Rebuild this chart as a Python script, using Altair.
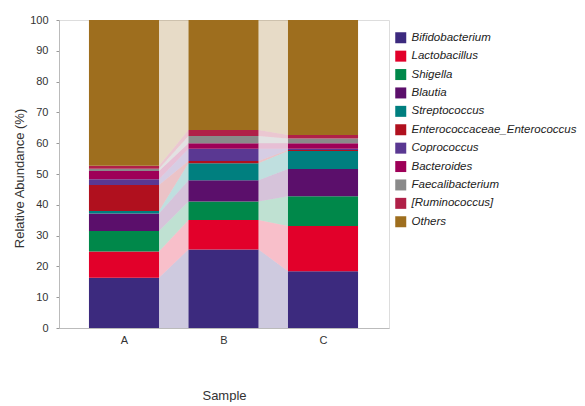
import altair as alt
import pandas as pd

samples = ["A", "B", "C"]
genera = [
    "Bifidobacterium", "Lactobacillus", "Shigella", "Blautia", "Streptococcus",
    "Enterococcaceae_Enterococcus", "Coprococcus", "Bacteroides",
    "Faecalibacterium", "[Ruminococcus]", "Others",
]
bifidobacterium = [16.3, 25.5, 18.4]
lactobacillus = [8.5, 9.6, 14.7]
shigella = [6.7, 6.0, 9.7]
blautia = [5.7, 6.9, 8.8]
streptococcus = [0.8, 5.5, 5.9]
enterococcus = [8.4, 0.7, 0.3]
coprococcus = [1.9, 4.0, 0.4]
bacteroides = [2.7, 1.8, 1.8]
faecalibacterium = [0.7, 2.3, 1.5]
ruminococcus = [1.0, 2.0, 1.2]
others = [47.3, 35.7, 37.3]

colors = ["#3c2a7e", "#e2002a", "#00884a", "#5b0f6b", "#007f7f", "#b0101e",
          "#5a3892", "#9e0058", "#8a8a8a", "#b02048", "#9e6e1e"]

series = [bifidobacterium, lactobacillus, shigella, blautia, streptococcus,
          enterococcus, coprococcus, bacteroides, faecalibacterium,
          ruminococcus, others]

# stacked segments
rows = []
lo_hi = {}
for si, s in enumerate(samples):
    cum = 0.0
    for g, vals in zip(genera, series):
        v = vals[si]
        rows.append({"Sample": s, "idx": si, "Genus": g, "lo": cum, "hi": cum + v})
        lo_hi[(g, si)] = (cum, cum + v)
        cum += v
bars_df = pd.DataFrame(rows)

# connecting bands between consecutive samples
band_rows = []
for i in range(len(samples) - 1):
    for g in genera:
        for side, j in (("right", i), ("left", i + 1)):
            lo, hi = lo_hi[(g, j)]
            band_rows.append({"Genus": g, "key": f"{g}-{i}", "idx": j,
                              "side": side, "lo": lo, "hi": hi})
bands_df = pd.DataFrame(band_rows)

HALF = 0.352
xscale = alt.Scale(domain=[-0.653, 2.663], nice=False, zero=False)
yscale = alt.Scale(domain=[0, 100], nice=False)
cscale = alt.Scale(domain=genera, range=colors)

xaxis = alt.Axis(values=[0, 1, 2],
                 labelExpr="['A','B','C'][datum.value]",
                 ticks=False, grid=False, labelPadding=6, labelFontSize=11,
                 labelColor="#333", domainColor="#bbbbbb", title="Sample",
                 titleFontSize=13, titleFontWeight="normal", titleColor="#333",
                 titleY=61, titleX=165)
yaxis = alt.Axis(values=list(range(0, 101, 10)), grid=False, tickSize=3,
                 tickColor="#999", domainColor="#bbbbbb", labelPadding=8,
                 labelFontSize=11, labelColor="#333",
                 title="Relative Abundance (%)", titleFontSize=13,
                 titleFontWeight="normal", titleColor="#333",
                 titleX=-33, titleY=158)

legend = alt.Legend(
    title=None, orient="none", legendX=336, legendY=12,
    symbolType="square", symbolSize=121, symbolStrokeWidth=0,
    symbolOpacity=1, labelFontSize=11.5, labelFontStyle="italic",
    labelColor="#222", labelLimit=400, rowPadding=5.4, padding=0,
    labelOffset=5)

bands = alt.Chart(bands_df).transform_calculate(
    bx=f"datum.side == 'right' ? datum.idx + {HALF} : datum.idx - {HALF}"
).mark_area(opacity=0.25, interpolate="linear").encode(
    x=alt.X("bx:Q", scale=xscale, axis=xaxis),
    y=alt.Y("lo:Q", scale=yscale, axis=yaxis),
    y2="hi:Q",
    color=alt.Color("Genus:N", scale=cscale, legend=legend),
    detail="key:N",
)

bars = alt.Chart(bars_df).transform_calculate(
    x1=f"datum.idx - {HALF}", x2=f"datum.idx + {HALF}"
).mark_rect().encode(
    x=alt.X("x1:Q", scale=xscale, axis=xaxis),
    x2="x2:Q",
    y=alt.Y("lo:Q", scale=yscale, axis=yaxis),
    y2="hi:Q",
    color=alt.Color("Genus:N", scale=cscale, legend=legend),
)

chart = alt.layer(bands, bars).properties(
    width=330, height=308,
    padding={"left": 5, "top": 6, "right": 0, "bottom": 0},
).configure_view(stroke=None).configure(font="Liberation Sans")

chart.save("out.html", embed_options={"renderer": "svg", "actions": False})
